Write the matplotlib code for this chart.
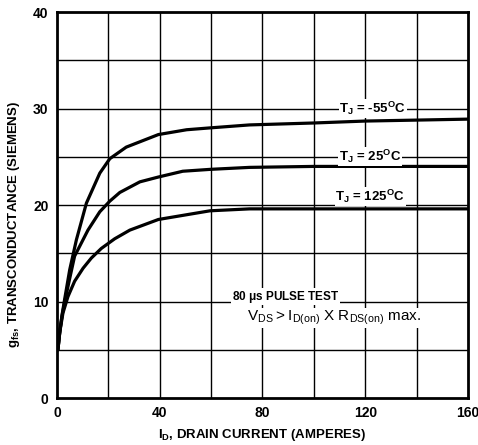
#!/usr/bin/env python
""" Transconductance vs drain current, three junction temperatures """
import matplotlib
matplotlib.use('Agg')
import matplotlib.pyplot as plt

plt.rcParams['font.family'] = ['Liberation Sans', 'DejaVu Sans']
plt.rcParams['font.weight'] = 'bold'
plt.rcParams['axes.labelweight'] = 'bold'
plt.rcParams['mathtext.default'] = 'regular'

# drain current (A) and gfs (S)
id_m55 = [0.4, 1.2, 2, 3, 5, 7.6, 11.5, 16.7, 20.6, 27, 39.5, 50.5, 60, 75, 100, 120, 140, 160]
gfs_m55 = [5.0, 7.0, 8.6, 10.2, 13.3, 16.4, 20.2, 23.3, 24.8, 26.0, 27.3, 27.8, 28.0, 28.3, 28.5, 28.7, 28.8, 28.9]

id_25 = [0.4, 1.2, 2, 3, 5, 6.9, 12.1, 16.7, 20.6, 24.5, 32.3, 39.5, 49, 60, 75, 100, 130, 160]
gfs_25 = [5.0, 7.0, 8.5, 9.9, 12.4, 14.7, 17.4, 19.3, 20.4, 21.3, 22.4, 22.9, 23.5, 23.7, 23.9, 24.0, 24.0, 24.0]

id_125 = [0.4, 1.05, 2.36, 4.3, 6.9, 10.2, 13.4, 17.3, 22.5, 28.4, 39.5, 59.6, 75, 100, 130, 160]
gfs_125 = [5.0, 6.7, 8.8, 10.5, 12.1, 13.45, 14.5, 15.5, 16.5, 17.4, 18.5, 19.4, 19.6, 19.6, 19.6, 19.6]

x_ticks = [0, 40, 80, 120, 160]
y_ticks = [0, 10, 20, 30, 40]

fig = plt.figure(figsize=(4.78, 4.45), dpi=100)
ax = fig.add_axes([0.119, 0.1056, 0.860, 0.8674])

# grid
for gx in range(20, 160, 20):
    ax.axvline(gx, color='k', lw=1.0, zorder=1)
for gy in range(5, 40, 5):
    ax.axhline(gy, color='k', lw=1.0, zorder=1)

for xs, ys in [(id_m55, gfs_m55), (id_25, gfs_25), (id_125, gfs_125)]:
    ax.plot(xs, ys, color='k', lw=2.3, solid_capstyle='round', solid_joinstyle='round', zorder=3)

box = dict(facecolor='white', edgecolor='none', pad=0.5)
ax.text(123, 30, r'$T_J$ = -55$^O$C', ha='center', va='center', fontsize=9.5, bbox=box, zorder=4)
ax.text(122, 25, r'$T_J$ = 25$^O$C', ha='center', va='center', fontsize=9.5, bbox=box, zorder=4)
ax.text(122, 20.9, r'$T_J$ = 125$^O$C', ha='center', va='center', fontsize=9.5, bbox=box, zorder=4)
ax.text(89, 10.5, r'80 $\mu$s PULSE TEST', ha='center', va='center', fontsize=8.5, bbox=box, zorder=4)
ax.text(108, 8.3, r'$V_{DS} > I_{D(on)}$ X $R_{DS(on)}$ max.', ha='center', va='center',
        fontsize=11, fontweight='normal', bbox=box, zorder=4)

ax.set_xlim(0, 160)
ax.set_ylim(0, 40)
ax.set_xticks(x_ticks)
ax.set_yticks(y_ticks)
ax.tick_params(length=0, labelsize=10, pad=6)
for spine in ax.spines.values():
    spine.set_linewidth(2.0)

ax.set_xlabel(r'$I_D$, DRAIN CURRENT (AMPERES)', fontsize=9.5)
ax.set_ylabel(r'$g_{fs}$, TRANSCONDUCTANCE (SIEMENS)', fontsize=9.5)
ax.xaxis.set_label_coords(0.5, -0.075)
ax.yaxis.set_label_coords(-0.085, 0.45)

plt.savefig('out.png', dpi=100)
